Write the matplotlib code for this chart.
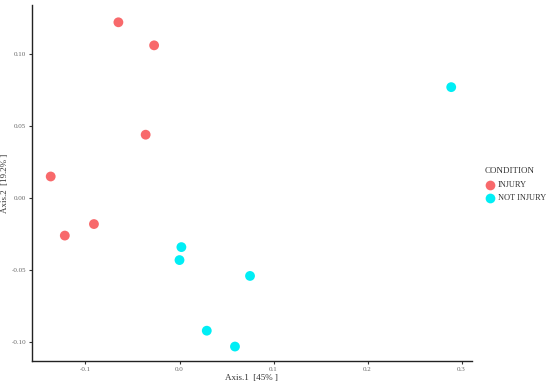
import matplotlib
matplotlib.use("Agg")
import matplotlib.pyplot as plt
from matplotlib.lines import Line2D

plt.rcParams['font.family'] = ['Liberation Serif', 'DejaVu Serif']

injury_x = [-0.065, -0.027, -0.036, -0.137, -0.091, -0.122]
injury_y = [0.122, 0.106, 0.044, 0.015, -0.018, -0.026]
not_x = [0.289, 0.002, 0.000, 0.075, 0.029, 0.059]
not_y = [0.077, -0.034, -0.043, -0.054, -0.092, -0.103]

xticks = [-0.1, 0.0, 0.1, 0.2, 0.3]
yticks = [-0.10, -0.05, 0.00, 0.05, 0.10]
xlabels = ["-0.1", "0.0", "0.1", "0.2", "0.3"]
ylabels = ["-0.10", "-0.05", "0.00", "0.05", "0.10"]

red = "#F8696B"
cyan = "#00EEF5"

fig = plt.figure(figsize=(5.5, 3.84), dpi=100)
ax = fig.add_axes([0.058, 0.060, 0.800, 0.927])
ax.scatter(injury_x, injury_y, s=50, color=red, edgecolors='none', zorder=3)
ax.scatter(not_x, not_y, s=50, color=cyan, edgecolors='none', zorder=3)

ax.set_xlim(-0.157, 0.311)
ax.set_ylim(-0.113, 0.134)
ax.set_xticks(xticks)
ax.set_xticklabels(xlabels)
ax.set_yticks(yticks)
ax.set_yticklabels(ylabels)
ax.tick_params(labelsize=5, colors="#333333", length=2, width=0.8, pad=2)
for lab in ax.get_xticklabels() + ax.get_yticklabels():
    lab.set_color("#666666")
for s in ["top", "right"]:
    ax.spines[s].set_visible(False)
for s in ["left", "bottom"]:
    ax.spines[s].set_linewidth(1.0)
    ax.spines[s].set_color("#222222")

ax.set_xlabel("Axis.1  [45% ]", fontsize=6.5, color="#333333")
ax.xaxis.set_label_coords(0.5, -0.036)
ax.set_ylabel("Axis.2  [19.2% ]", fontsize=6.5, color="#333333")
ax.yaxis.set_label_coords(-0.052, 0.5)

handles = [
    Line2D([], [], marker='o', linestyle='none', markersize=7, color=red, markeredgewidth=0),
    Line2D([], [], marker='o', linestyle='none', markersize=7, color=cyan, markeredgewidth=0),
]
leg = fig.legend(handles, ["INJURY", "NOT INJURY"], title="CONDITION",
                 loc="upper left", bbox_to_anchor=(0.875, 0.575), frameon=False,
                 fontsize=6, title_fontsize=6.5, handletextpad=0.4,
                 labelspacing=0.6, borderaxespad=0, handlelength=1.2)
leg._legend_box.align = "left"
leg._legend_box.sep = 5
for t in leg.get_texts():
    t.set_color("#333333")
leg.get_title().set_color("#333333")

fig.savefig("out.png", dpi=100)
